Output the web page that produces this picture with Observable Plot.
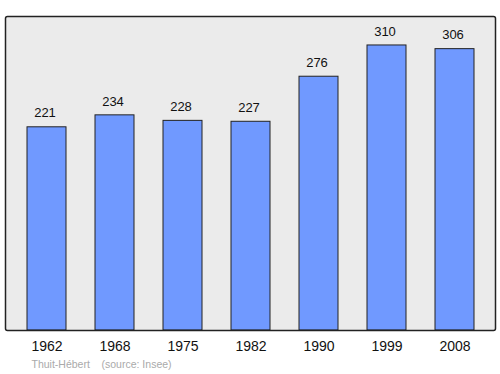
<!DOCTYPE html>
<html>
<head>
<meta charset="utf-8">
<script src="https://cdn.jsdelivr.net/npm/d3@7"></script>
<script src="https://cdn.jsdelivr.net/npm/@observablehq/plot@0.6"></script>
<style>
  html, body { margin: 0; padding: 0; background: #fff; }
  svg { display: block; }
</style>
</head>
<body>
<div id="chart"></div>
<script>
const years = ["1962", "1968", "1975", "1982", "1990", "1999", "2008"];
const population = [221, 234, 228, 227, 276, 310, 306];
const place = "Thuit-Hébert";
const source = "(source: Insee)";

const data = years.map((y, i) => ({year: y, pop: population[i]}));

const chart = Plot.plot({
  width: 500,
  height: 374,
  marginTop: 16,
  marginBottom: 44,
  marginLeft: 5,
  marginRight: 5,
  style: {fontFamily: "'Liberation Sans', Arial, sans-serif", background: "#fff"},
  x: {domain: years, paddingInner: 0.43, paddingOuter: 0.3, label: null, axis: null},
  y: {domain: [0, 341.5], axis: null},
  marks: [
    Plot.frame({fill: "#ebebeb", stroke: "none"}),
    Plot.barY(data, {x: "year", y: "pop", fill: "#7099ff", stroke: "#222", strokeWidth: 1}),
    Plot.frame({stroke: "#222", strokeWidth: 1.5, rx: 2}),
    Plot.axisX({tickSize: 0, tickPadding: 11, fontSize: 14, fill: "#111", label: null}),
    Plot.text(data, {x: "year", y: "pop", text: d => String(d.pop), dy: -14, dx: -2, fontSize: 13, fill: "#111"}),
    Plot.text([place + "    " + source], {frameAnchor: "bottom-left", dx: 26, dy: 37, textAnchor: "start", fontSize: 10.5, fill: "#aaa", text: d => d})
  ]
});
document.getElementById("chart").appendChild(chart);
</script>
</body>
</html>
